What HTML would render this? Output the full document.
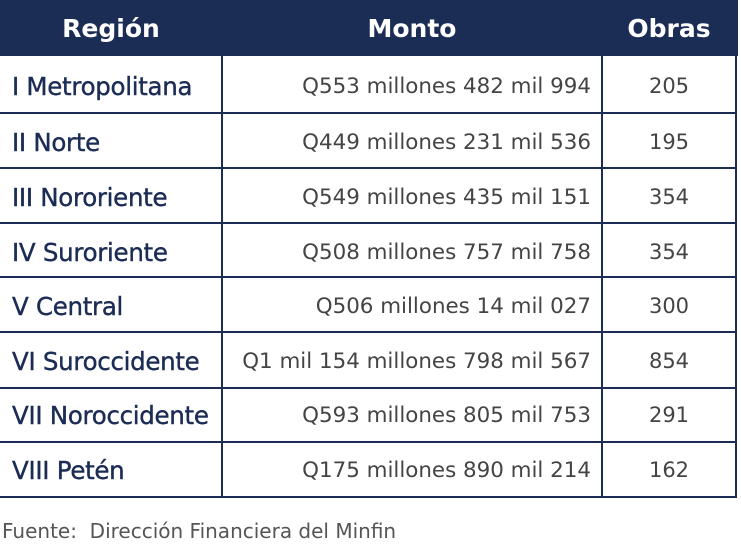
<!DOCTYPE html><html><head><style>
body{margin:0;width:741px;height:551px;background:#fff;position:relative;overflow:hidden;font-family:"DejaVu Sans",sans-serif}
.hd{position:absolute;left:0;top:0;width:738px;height:56px;background:#1b2c55}
.ht{position:absolute;top:14px;color:#fff;font-size:25px;text-align:center;font-weight:600}
.l{position:absolute;background:#1b2c55}
.r{position:absolute;left:12px;font-size:24.5px;color:#1b2c55;-webkit-text-stroke:0.4px #1b2c55;letter-spacing:-0.3px}
.m{position:absolute;right:150px;font-size:21.4px;color:#444;margin-top:2px}
.o{position:absolute;left:602px;width:134px;text-align:center;font-size:21px;color:#444;margin-top:2px}
</style></head><body>
<div class="hd"></div>
<div class="ht" style="left:0;width:222px">Región</div>
<div class="ht" style="left:222px;width:380px">Monto</div>
<div class="ht" style="left:602px;width:134px">Obras</div>
<div class="l" style="left:221px;top:56px;width:2px;height:442px"></div>
<div class="l" style="left:601px;top:56px;width:2px;height:442px"></div>
<div class="l" style="left:735px;top:56px;width:2px;height:442px"></div>
<div class="l" style="left:0;top:112px;width:737px;height:2px"></div>
<div class="l" style="left:0;top:167px;width:737px;height:2px"></div>
<div class="l" style="left:0;top:222px;width:737px;height:2px"></div>
<div class="l" style="left:0;top:276px;width:737px;height:2px"></div>
<div class="l" style="left:0;top:331px;width:737px;height:2px"></div>
<div class="l" style="left:0;top:387px;width:737px;height:2px"></div>
<div class="l" style="left:0;top:441px;width:737px;height:2px"></div>
<div class="l" style="left:0;top:496px;width:737px;height:2px"></div>
<div class="r" style="top:72px">I Metropolitana</div><div class="m" style="top:72px">Q553 millones 482 mil 994</div><div class="o" style="top:72px">205</div>
<div class="r" style="top:128px">II Norte</div><div class="m" style="top:128px">Q449 millones 231 mil 536</div><div class="o" style="top:128px">195</div>
<div class="r" style="top:183px">III Nororiente</div><div class="m" style="top:183px">Q549 millones 435 mil 151</div><div class="o" style="top:183px">354</div>
<div class="r" style="top:238px">IV Suroriente</div><div class="m" style="top:238px">Q508 millones 757 mil 758</div><div class="o" style="top:238px">354</div>
<div class="r" style="top:292px">V Central</div><div class="m" style="top:292px">Q506 millones 14 mil 027</div><div class="o" style="top:292px">300</div>
<div class="r" style="top:347px">VI Suroccidente</div><div class="m" style="top:347px">Q1 mil 154 millones 798 mil 567</div><div class="o" style="top:347px">854</div>
<div class="r" style="top:401px">VII Noroccidente</div><div class="m" style="top:401px">Q593 millones 805 mil 753</div><div class="o" style="top:401px">291</div>
<div class="r" style="top:456px">VIII Petén</div><div class="m" style="top:456px">Q175 millones 890 mil 214</div><div class="o" style="top:456px">162</div>
<div style="position:absolute;left:2px;top:519px;font-size:20px;color:#555">Fuente:&nbsp; Dirección Financiera del Minfin</div>
</body></html>
